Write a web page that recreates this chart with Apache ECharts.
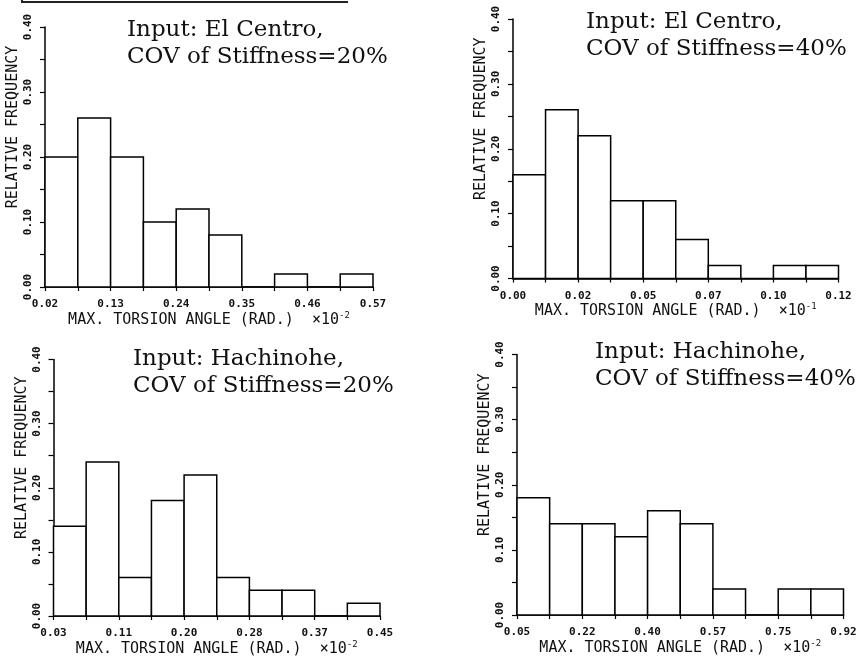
<!DOCTYPE html>
<html>
<head>
<meta charset="utf-8">
<script src="https://cdn.jsdelivr.net/npm/echarts@6/dist/echarts.min.js"></script>
<style>html,body{margin:0;padding:0;background:#fff;}#c{width:861px;height:658px;}</style>
</head>
<body>
<div id="c"></div>
<script>
// ---- data ----
const titles = [
  'Input: El Centro,\nCOV of Stiffness=20%',
  'Input: El Centro,\nCOV of Stiffness=40%',
  'Input: Hachinohe,\nCOV of Stiffness=20%',
  'Input: Hachinohe,\nCOV of Stiffness=40%'
];
const xTicks1 = ['0.02', '0.13', '0.24', '0.35', '0.46', '0.57'];
const xTicks2 = ['0.00', '0.02', '0.05', '0.07', '0.10', '0.12'];
const xTicks3 = ['0.03', '0.11', '0.20', '0.28', '0.37', '0.45'];
const xTicks4 = ['0.05', '0.22', '0.40', '0.57', '0.75', '0.92'];
const xExponents = ['-2', '-1', '-2', '-2'];
const freq1 = [0.20, 0.26, 0.20, 0.10, 0.12, 0.08, 0.00, 0.02, 0.00, 0.02];
const freq2 = [0.16, 0.26, 0.22, 0.12, 0.12, 0.06, 0.02, 0.00, 0.02, 0.02];
const freq3 = [0.14, 0.24, 0.06, 0.18, 0.22, 0.06, 0.04, 0.04, 0.00, 0.02];
const freq4 = [0.18, 0.14, 0.14, 0.12, 0.16, 0.14, 0.04, 0.00, 0.04, 0.04];
const yName = 'RELATIVE FREQUENCY';
const xName = 'MAX. TORSION ANGLE (RAD.)';

const xTicksAll = [xTicks1, xTicks2, xTicks3, xTicks4];
const freqAll = [freq1, freq2, freq3, freq4];

// ---- layout ----
const grids = [
  {left: 45, top: 27, width: 328, height: 260},
  {left: 513, top: 19, width: 325.5, height: 259.5},
  {left: 53.5, top: 359.5, width: 326.5, height: 259},
  {left: 517, top: 354.5, width: 326.5, height: 260.5}
];
const titlePos = [
  {left: 127, top: 17},
  {left: 586, top: 9},
  {left: 133, top: 346},
  {left: 595, top: 339}
];

const monoFont = 'DejaVu Sans Mono';
const option = {
  backgroundColor: '#fff',
  animation: false,
  title: titles.map((t, i) => ({
    text: t,
    left: titlePos[i].left,
    top: titlePos[i].top,
    padding: 0,
    textStyle: {fontFamily: 'DejaVu Serif', fontSize: 23, fontWeight: 'normal', color: '#111', lineHeight: 27}
  })),
  grid: grids,
  xAxis: grids.map((g, i) => ({
    type: 'value', gridIndex: i, min: 0, max: 10, interval: 1,
    name: '{a|' + xName + '  ×10}{s|' + xExponents[i] + '}',
    nameLocation: 'middle', nameGap: 24,
    nameTextStyle: {
      rich: {
        a: {fontFamily: monoFont, fontSize: 15, color: '#111', lineHeight: 18},
        s: {fontFamily: monoFont, fontSize: 9, color: '#111', verticalAlign: 'top', lineHeight: 18, padding: [0, 0, 8, 0]}
      }
    },
    axisLine: {show: true, lineStyle: {color: '#000', width: 1.5}},
    axisTick: {show: true, inside: false, length: 4, lineStyle: {color: '#000', width: 1.2}},
    splitLine: {show: false},
    axisLabel: {
      show: true, margin: 12, showMinLabel: true, showMaxLabel: true,
      fontFamily: monoFont, fontSize: 11, fontWeight: 'bold', color: '#111',
      formatter: v => (Math.round(v) % 2 === 0 ? xTicksAll[i][Math.round(v) / 2] : '')
    }
  })),
  yAxis: grids.map((g, i) => ({
    type: 'value', gridIndex: i, min: 0, max: 0.4, interval: 0.05,
    name: yName, nameLocation: 'middle', nameGap: 24, nameRotate: 90,
    nameTextStyle: {fontFamily: monoFont, fontSize: 15, color: '#111', padding: [0, 0, 0, 60]},
    axisLine: {show: true, lineStyle: {color: '#000', width: 1.5}},
    axisTick: {show: true, inside: false, length: 5, lineStyle: {color: '#000', width: 1.2}},
    splitLine: {show: false},
    axisLabel: {
      show: true, rotate: 90, margin: 11, showMinLabel: true, showMaxLabel: true,
      fontFamily: monoFont, fontSize: 11, fontWeight: 'bold', color: '#111',
      formatter: v => (Math.round(v * 100) % 10 === 0 ? v.toFixed(2) : '')
    }
  })),
  series: freqAll.map((arr, i) => ({
    type: 'custom', xAxisIndex: i, yAxisIndex: i,
    encode: {x: 0, y: 1},
    data: arr.map((v, k) => [k, v]),
    renderItem: (params, api) => {
      const k = api.value(0), v = api.value(1);
      const p0 = api.coord([k, v]);
      const p1 = api.coord([k + 1, 0]);
      return {
        type: 'rect',
        shape: {x: p0[0], y: p0[1], width: p1[0] - p0[0], height: p1[1] - p0[1]},
        style: {fill: '#fff', stroke: '#000', lineWidth: 1.5}
      };
    }
  })),
  graphic: [{
    type: 'polyline',
    shape: {points: [[22, 0], [22, 2], [348, 2]]},
    style: {stroke: '#222', lineWidth: 2, fill: null}
  }]
};
const chart = echarts.init(document.getElementById('c'), null, {renderer: 'canvas'});
chart.setOption(option);
</script>
</body>
</html>
